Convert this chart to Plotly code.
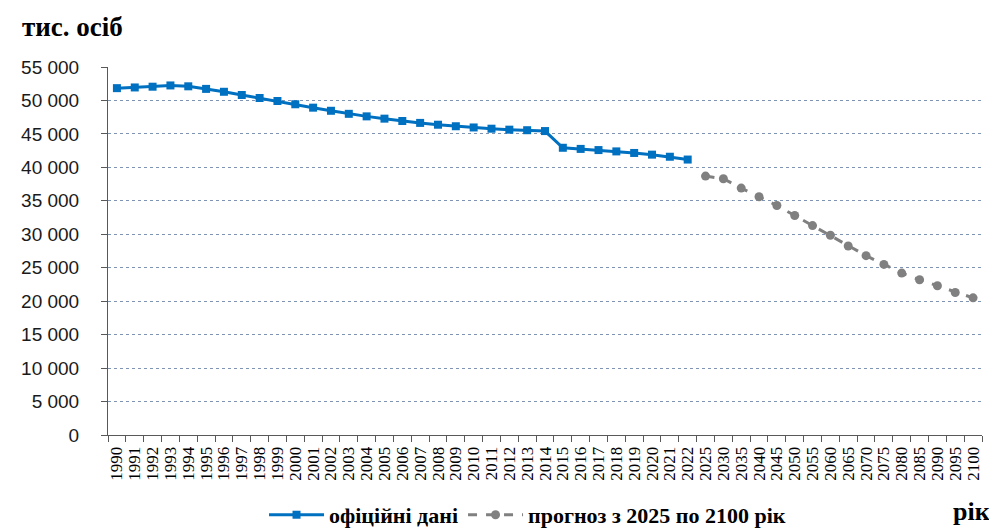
import plotly.graph_objects as go

years_official = [str(y) for y in range(1990, 2023)]
pop_official = [51839, 51944, 52056, 52244, 52114, 51728, 51297, 50818, 50370, 49918,
                49430, 48923, 48457, 48003, 47622, 47280, 46930, 46646, 46373, 46144,
                45963, 45779, 45633, 45553, 45426, 42929, 42760, 42584, 42386, 42153,
                41902, 41588, 41167]

years_forecast = [str(y) for y in range(2025, 2101, 5)]
pop_forecast = [38700, 38300, 36900, 35600, 34300, 32800, 31300, 29850, 28250, 26800,
                25500, 24200, 23200, 22300, 21300, 20500]

categories = years_official + years_forecast
y_ticks = list(range(0, 55001, 5000))

serif = "Liberation Serif, Times New Roman, serif"
sans = "Liberation Sans, Arial, sans-serif"

fig = go.Figure()
fig.add_trace(go.Scatter(
    x=years_official, y=pop_official, mode="lines+markers",
    name="офіційні дані",
    line=dict(color="#0070c0", width=3),
    marker=dict(symbol="square", size=8, color="#0070c0"),
))
fig.add_trace(go.Scatter(
    x=years_forecast, y=pop_forecast, mode="lines+markers",
    name="прогноз з 2025 по 2100 рік",
    line=dict(color="#808080", width=3, dash="dash"),
    marker=dict(symbol="circle", size=9, color="#808080"),
))

fig.update_layout(
    width=989, height=521,
    margin=dict(l=100, r=15, t=59, b=94),
    paper_bgcolor="white", plot_bgcolor="white",
    separators=", ",
    font=dict(family=serif, color="black"),
    showlegend=True,
    legend=dict(orientation="h", x=0.48, xanchor="center",
                yref="container", y=0.027, yanchor="middle",
                font=dict(size=22, family=serif, color="black", weight="bold"),
                itemwidth=55, traceorder="normal", bgcolor="rgba(0,0,0,0)"),
    annotations=[
        dict(text="<b>тис. осіб</b>", xref="paper", yref="paper", x=-0.1007, y=1.0,
             xanchor="left", yanchor="middle", yshift=40, showarrow=False,
             font=dict(size=27, family=serif, color="black")),
        dict(text="<b>рік</b>", xref="paper", yref="paper", x=1.0115, y=-0.209,
             xanchor="right", yanchor="middle", showarrow=False,
             font=dict(size=26, family=serif, color="black")),
    ],
)
fig.update_xaxes(
    type="category", categoryorder="array", categoryarray=categories,
    range=[-0.5, len(categories) - 0.5],
    tickmode="array", tickvals=categories, ticktext=categories,
    tickangle=-90, tickfont=dict(size=17, family=serif, color="black"),
    showline=True, linecolor="#595959", linewidth=1,
    ticks="outside", tickson="boundaries", ticklen=6, tickcolor="#595959",
    ticklabelstandoff=4,
    showgrid=False, zeroline=False, automargin=False,
)
fig.update_yaxes(
    range=[0, 55000], tickvals=y_ticks, tickformat=",d",
    tickfont=dict(size=19, family=sans, color="#1a1a1a"),
    showline=True, linecolor="#595959", linewidth=1,
    ticks="outside", ticklen=6, tickcolor="#595959",
    ticklabelstandoff=18,
    showgrid=True, gridcolor="#7f93b3", griddash="dot", gridwidth=1,
    zeroline=False, automargin=False,
)

fig.write_html("out.html")
